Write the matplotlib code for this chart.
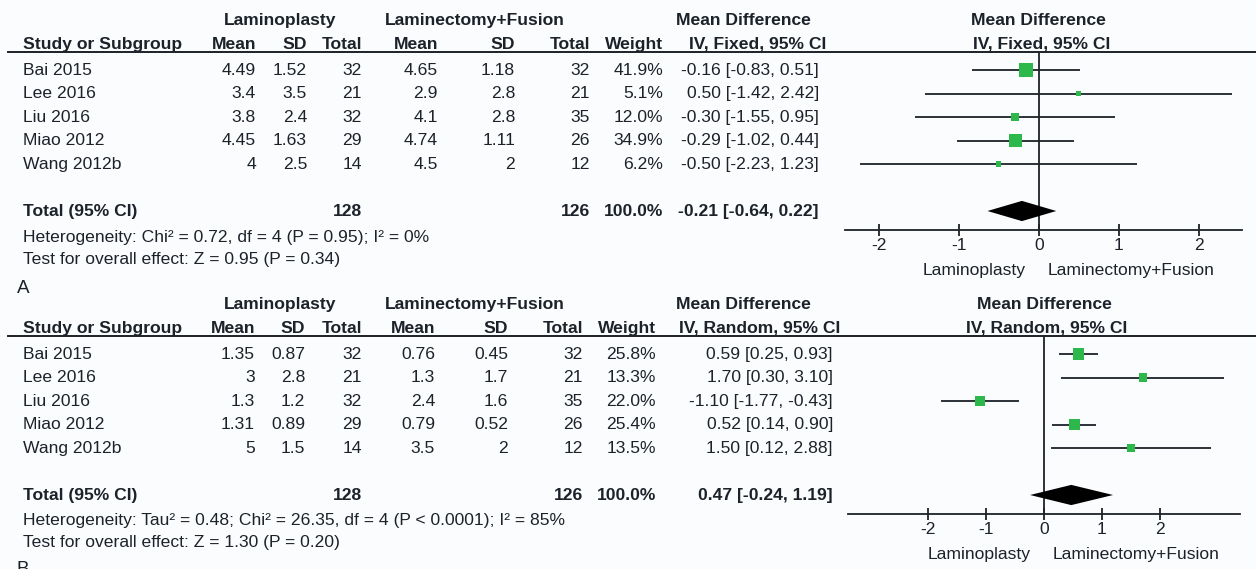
import matplotlib.pyplot as plt
import numpy as np

plt.rcParams['font.family'] = ['Liberation Sans', 'DejaVu Sans']

studies = ['Bai 2015', 'Lee 2016', 'Liu 2016', 'Miao 2012', 'Wang 2012b']

# panel A: fixed effect
a_lp_mean = ['4.49', '3.4', '3.8', '4.45', '4']
a_lp_sd = ['1.52', '3.5', '2.4', '1.63', '2.5']
a_lp_n = [32, 21, 32, 29, 14]
a_lf_mean = ['4.65', '2.9', '4.1', '4.74', '4.5']
a_lf_sd = ['1.18', '2.8', '2.8', '1.11', '2']
a_lf_n = [32, 21, 35, 26, 12]
a_weight = [41.9, 5.1, 12.0, 34.9, 6.2]
a_md = [-0.16, 0.50, -0.30, -0.29, -0.50]
a_lo = [-0.83, -1.42, -1.55, -1.02, -2.23]
a_hi = [0.51, 2.42, 0.95, 0.44, 1.23]
a_total = (-0.21, -0.64, 0.22)
a_het = 'Heterogeneity: Chi² = 0.72, df = 4 (P = 0.95); I² = 0%'
a_test = 'Test for overall effect: Z = 0.95 (P = 0.34)'

# panel B: random effects
b_lp_mean = ['1.35', '3', '1.3', '1.31', '5']
b_lp_sd = ['0.87', '2.8', '1.2', '0.89', '1.5']
b_lp_n = [32, 21, 32, 29, 14]
b_lf_mean = ['0.76', '1.3', '2.4', '0.79', '3.5']
b_lf_sd = ['0.45', '1.7', '1.6', '0.52', '2']
b_lf_n = [32, 21, 35, 26, 12]
b_weight = [25.8, 13.3, 22.0, 25.4, 13.5]
b_md = [0.59, 1.70, -1.10, 0.52, 1.50]
b_lo = [0.25, 0.30, -1.77, 0.14, 0.12]
b_hi = [0.93, 3.10, -0.43, 0.90, 2.88]
b_total = (0.47, -0.24, 1.19)
b_het = 'Heterogeneity: Tau² = 0.48; Chi² = 26.35, df = 4 (P < 0.0001); I² = 85%'
b_test = 'Test for overall effect: Z = 1.30 (P = 0.20)'

total_weight = 100.0
ticks = [-2, -1, 0, 1, 2]

INK = '#1c2229'
GREEN = '#2db84b'
W, H = 1256, 569
FS = 12.6

fig = plt.figure(figsize=(W / 100, H / 100), dpi=100)
fig.patch.set_facecolor('#fbfcfe')
bg = fig.add_axes([0, 0, 1, 1])
bg.set_xlim(0, W)
bg.set_ylim(H, 0)
bg.axis('off')


def txt(x, y, s, ha='right', bold=False):
    bg.text(x, y, s, ha=ha, va='center', fontsize=FS, color=INK,
            fontweight='bold' if bold else 'normal')


def panel(top, cols, method, lp_mean, lp_sd, lp_n, lf_mean, lf_sd, lf_n,
          weight, md, lo, hi, total, het, test, zero_px, unit_px, axis_rng):
    c_mean, c_sd, c_n, c_mean2, c_sd2, c_n2, c_w, c_ci = cols
    step = 23.5
    row0 = top + 50
    line_y = top + 32

    def ry(i):
        return row0 + i * step

    # column headers
    txt(280, top, 'Laminoplasty', ha='center', bold=True)
    txt(475, top, 'Laminectomy+Fusion', ha='center', bold=True)
    txt(743, top, 'Mean Difference', ha='center', bold=True)
    txt(zero_px, top, 'Mean Difference', ha='center', bold=True)
    hy = top + 24
    txt(23, hy, 'Study or Subgroup', ha='left', bold=True)
    for x, s in zip([c_mean, c_sd, c_n, c_mean2, c_sd2, c_n2, c_w],
                    ['Mean', 'SD', 'Total', 'Mean', 'SD', 'Total', 'Weight']):
        txt(x, hy, s, bold=True)
    txt(c_ci + 7, hy, f'IV, {method}, 95% CI', bold=True)
    txt(zero_px + 3, hy, f'IV, {method}, 95% CI', ha='center', bold=True)
    bg.plot([8, W], [line_y, line_y], color=INK, lw=1.4)

    # study rows
    for i in range(len(studies)):
        y = ry(i)
        txt(23, y, studies[i], ha='left')
        txt(c_mean, y, lp_mean[i])
        txt(c_sd, y, lp_sd[i])
        txt(c_n, y, str(lp_n[i]))
        txt(c_mean2, y, lf_mean[i])
        txt(c_sd2, y, lf_sd[i])
        txt(c_n2, y, str(lf_n[i]))
        txt(c_w, y, f'{weight[i]:.1f}%')
        txt(c_ci, y, f'{md[i]:.2f} [{lo[i]:.2f}, {hi[i]:.2f}]')

    ty = ry(6)
    txt(23, ty, 'Total (95% CI)', ha='left', bold=True)
    txt(c_n, ty, str(sum(lp_n)), bold=True)
    txt(c_n2, ty, str(sum(lf_n)), bold=True)
    txt(c_w, ty, f'{total_weight:.1f}%', bold=True)
    txt(c_ci, ty, f'{total[0]:.2f} [{total[1]:.2f}, {total[2]:.2f}]', bold=True)
    txt(23, ty + 26, het, ha='left')
    txt(23, ty + 48, test, ha='left')

    # forest plot, scaled so data units line up with the table rows
    axis_y = ty + 19
    left_px, right_px = 840, W
    ax = fig.add_axes([left_px / W, 1 - axis_y / H,
                       (right_px - left_px) / W, (axis_y - line_y) / H])
    ax.set_xlim((left_px - zero_px) / unit_px, (right_px - zero_px) / unit_px)
    ax.set_ylim((axis_y - row0) / step, (line_y - row0) / step)
    ax.patch.set_alpha(0)
    for s in ['top', 'left', 'right']:
        ax.spines[s].set_visible(False)
    ax.spines['bottom'].set_bounds(*axis_rng)
    ax.spines['bottom'].set_color(INK)
    ax.spines['bottom'].set_linewidth(1.3)
    ax.set_yticks([])
    ax.set_xticks(ticks)
    ax.set_xticklabels([str(t) for t in ticks])
    ax.tick_params(axis='x', direction='inout', length=9, width=1.3,
                   colors=INK, labelsize=FS, pad=1)
    ax.axvline(0, color=INK, lw=1.3)

    yy = np.arange(len(studies))
    ax.hlines(yy, lo, hi, color=INK, lw=1.3)
    ax.scatter(md, yy, s=np.array(weight) * 2.5, marker='s', color=GREEN,
               zorder=3, linewidths=0)
    m, l, h = total
    ax.fill([l, m, h, m], [6, 6 - 0.43, 6, 6 + 0.43], color='black', lw=0,
            zorder=3)

    ly = axis_y + 40
    txt(zero_px - 13, ly, 'Laminoplasty')
    txt(zero_px + 9, ly, 'Laminectomy+Fusion', ha='left')


panel(20, (256, 307, 362, 438, 515, 590, 663, 819), 'Fixed',
      a_lp_mean, a_lp_sd, a_lp_n, a_lf_mean, a_lf_sd, a_lf_n,
      a_weight, a_md, a_lo, a_hi, a_total, a_het, a_test,
      1038.7, 80.0, (-2.42, 2.54))
panel(304, (255, 305, 362, 435, 508, 583, 656, 833), 'Random',
      b_lp_mean, b_lp_sd, b_lp_n, b_lf_mean, b_lf_sd, b_lf_n,
      b_weight, b_md, b_lo, b_hi, b_total, b_het, b_test,
      1044.0, 58.0, (-3.38, 3.38))

bg.text(17, 288, 'A', ha='left', va='center', fontsize=FS + 1, color=INK)
bg.text(17, 561, 'B', ha='left', va='top', fontsize=FS + 1, color=INK)

fig.savefig('out.png', dpi=100, facecolor=fig.get_facecolor())
